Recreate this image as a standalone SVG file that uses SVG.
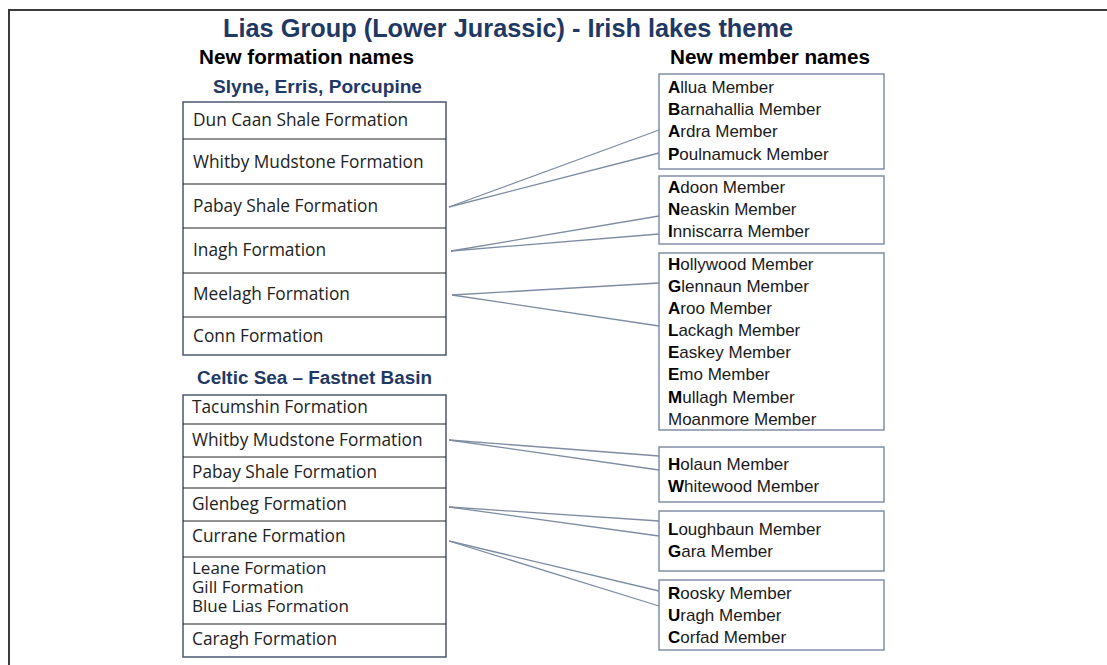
<svg xmlns="http://www.w3.org/2000/svg" width="1107" height="665" viewBox="0 0 1107 665">
<style>
.frame{fill:none;stroke:#3a3a3a;stroke-width:2}
.title{font-family:"Liberation Sans",Arial,sans-serif;font-weight:bold;fill:#1F3864;text-anchor:middle}
.head{font-family:"Liberation Sans",Arial,sans-serif;font-weight:bold;fill:#000;text-anchor:middle;font-size:20px}
.sub{font-family:"Liberation Sans",Arial,sans-serif;font-weight:bold;fill:#1F3864;text-anchor:middle;font-size:18px}
.fbox{fill:#fff;stroke:#4a5870;stroke-width:1.5}
.div{stroke:#222;stroke-width:1}
.ft{font-family:"Open Sans",sans-serif;font-size:17.3px;fill:#222}
.ft2{font-family:"Open Sans",sans-serif;font-size:17px;fill:#222}
.mbox{fill:#fff;stroke:#8090a8;stroke-width:1.5}
.mt{font-family:"Liberation Sans",Arial,sans-serif;font-size:17px;fill:#1a1a1a}
.mt tspan.b{font-weight:bold;fill:#000}
.conn line{stroke:#7d8ca3;stroke-width:1.3}
</style>
<path class="frame" d="M9 665 V10 H1107"/>
<g id="headings">
<text class="title" x="508" y="37" font-size="26" textLength="570" lengthAdjust="spacingAndGlyphs">Lias Group (Lower Jurassic) - Irish lakes theme</text>
<text class="head" x="306.5" y="64" textLength="215" lengthAdjust="spacingAndGlyphs">New formation names</text>
<text class="head" x="770" y="64" textLength="200" lengthAdjust="spacingAndGlyphs">New member names</text>
<text class="sub" x="317.5" y="93" textLength="209" lengthAdjust="spacingAndGlyphs">Slyne, Erris, Porcupine</text>
<text class="sub" x="314.5" y="384" textLength="235" lengthAdjust="spacingAndGlyphs">Celtic Sea – Fastnet Basin</text>
</g>
<g id="slyne-formations">
<rect class="fbox" x="183" y="102" width="263" height="253"/>
<line class="div" x1="183" y1="139" x2="446" y2="139"/>
<line class="div" x1="183" y1="184" x2="446" y2="184"/>
<line class="div" x1="183" y1="228" x2="446" y2="228"/>
<line class="div" x1="183" y1="273" x2="446" y2="273"/>
<line class="div" x1="183" y1="317" x2="446" y2="317"/>
<text class="ft" x="193" y="126">Dun Caan Shale Formation</text>
<text class="ft" x="193" y="168">Whitby Mudstone Formation</text>
<text class="ft" x="193" y="212">Pabay Shale Formation</text>
<text class="ft" x="193" y="256">Inagh Formation</text>
<text class="ft" x="193" y="300">Meelagh Formation</text>
<text class="ft" x="193" y="342">Conn Formation</text>
</g>
<g id="celtic-formations">
<rect class="fbox" x="183" y="395" width="263" height="262"/>
<line class="div" x1="183" y1="424" x2="446" y2="424"/>
<line class="div" x1="183" y1="457" x2="446" y2="457"/>
<line class="div" x1="183" y1="488" x2="446" y2="488"/>
<line class="div" x1="183" y1="521" x2="446" y2="521"/>
<line class="div" x1="183" y1="557" x2="446" y2="557"/>
<line class="div" x1="183" y1="624" x2="446" y2="624"/>
<text class="ft" x="192" y="413">Tacumshin Formation</text>
<text class="ft" x="192" y="446">Whitby Mudstone Formation</text>
<text class="ft" x="192" y="478">Pabay Shale Formation</text>
<text class="ft" x="192" y="510">Glenbeg Formation</text>
<text class="ft" x="192" y="542">Currane Formation</text>
<text class="ft2" x="192" y="574">Leane Formation</text>
<text class="ft2" x="192" y="593">Gill Formation</text>
<text class="ft2" x="192" y="612">Blue Lias Formation</text>
<text class="ft" x="192" y="645">Caragh Formation</text>
</g>
<g id="members-pabay">
<rect class="mbox" x="659" y="74" width="225" height="95"/>
<text class="mt" x="668" y="93"><tspan class="b">A</tspan>llua Member</text>
<text class="mt" x="668" y="115"><tspan class="b">B</tspan>arnahallia Member</text>
<text class="mt" x="668" y="137"><tspan class="b">A</tspan>rdra Member</text>
<text class="mt" x="668" y="160"><tspan class="b">P</tspan>oulnamuck Member</text>
</g>
<g id="members-inagh">
<rect class="mbox" x="659" y="176" width="225" height="68"/>
<text class="mt" x="668" y="193"><tspan class="b">A</tspan>doon Member</text>
<text class="mt" x="668" y="215"><tspan class="b">N</tspan>easkin Member</text>
<text class="mt" x="668" y="237"><tspan class="b">I</tspan>nniscarra Member</text>
</g>
<g id="members-meelagh">
<rect class="mbox" x="659" y="253" width="225" height="177"/>
<text class="mt" x="668" y="270"><tspan class="b">H</tspan>ollywood Member</text>
<text class="mt" x="668" y="292"><tspan class="b">G</tspan>lennaun Member</text>
<text class="mt" x="668" y="314"><tspan class="b">A</tspan>roo Member</text>
<text class="mt" x="668" y="336"><tspan class="b">L</tspan>ackagh Member</text>
<text class="mt" x="668" y="358"><tspan class="b">E</tspan>askey Member</text>
<text class="mt" x="668" y="380"><tspan class="b">E</tspan>mo Member</text>
<text class="mt" x="668" y="403"><tspan class="b">M</tspan>ullagh Member</text>
<text class="mt" x="668" y="425">Moanmore Member</text>
</g>
<g id="members-whitby">
<rect class="mbox" x="659" y="447" width="225" height="55"/>
<text class="mt" x="668" y="470"><tspan class="b">H</tspan>olaun Member</text>
<text class="mt" x="668" y="492"><tspan class="b">W</tspan>hitewood Member</text>
</g>
<g id="members-glenbeg">
<rect class="mbox" x="659" y="511" width="225" height="60"/>
<text class="mt" x="668" y="535"><tspan class="b">L</tspan>oughbaun Member</text>
<text class="mt" x="668" y="557"><tspan class="b">G</tspan>ara Member</text>
</g>
<g id="members-currane">
<rect class="mbox" x="659" y="580" width="225" height="70"/>
<text class="mt" x="668" y="599"><tspan class="b">R</tspan>oosky Member</text>
<text class="mt" x="668" y="621"><tspan class="b">U</tspan>ragh Member</text>
<text class="mt" x="668" y="643"><tspan class="b">C</tspan>orfad Member</text>
</g>
<g id="connectors" class="conn">
<line x1="449" y1="207" x2="659" y2="130"/>
<line x1="449" y1="207" x2="659" y2="153"/>
<line x1="451" y1="251" x2="659" y2="216"/>
<line x1="451" y1="251" x2="659" y2="234"/>
<line x1="452" y1="295" x2="659" y2="283"/>
<line x1="452" y1="295" x2="659" y2="326"/>
<line x1="449" y1="440" x2="659" y2="456"/>
<line x1="449" y1="440" x2="659" y2="470"/>
<line x1="449" y1="507" x2="659" y2="521"/>
<line x1="449" y1="507" x2="659" y2="536"/>
<line x1="449" y1="541" x2="659" y2="591"/>
<line x1="449" y1="541" x2="659" y2="606"/>
</g>
</svg>
